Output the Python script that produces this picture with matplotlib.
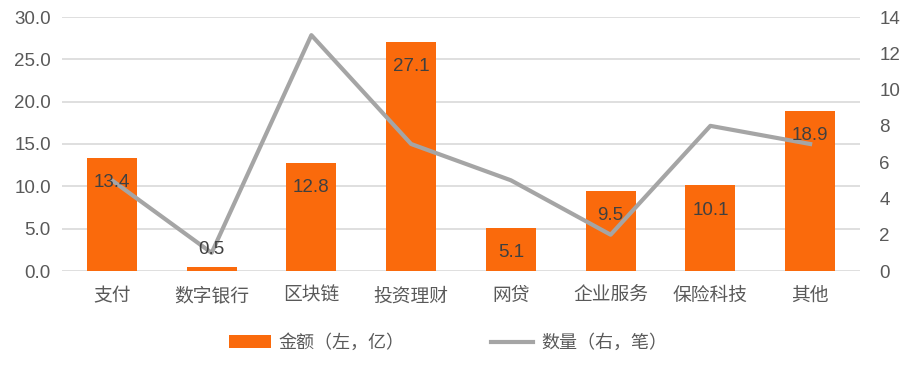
import matplotlib
matplotlib.use('Agg')
import matplotlib.pyplot as plt
from matplotlib.ticker import FormatStrFormatter
from matplotlib.lines import Line2D
from matplotlib.patches import Patch

plt.rcParams['font.family'] = ['Liberation Sans', 'Noto Sans CJK SC', 'DejaVu Sans']

# data
categories = ['支付', '数字银行', '区块链', '投资理财', '网贷', '企业服务', '保险科技', '其他']
amounts = [13.4, 0.5, 12.8, 27.1, 5.1, 9.5, 10.1, 18.9]
counts = [5, 1, 13, 7, 5, 2, 8, 7]

bar_color = '#FA6A0C'
line_color = '#A5A5A5'
text_color = '#595959'

fig = plt.figure(figsize=(9.06, 3.68), dpi=100)
ax = fig.add_axes([62 / 906, 1 - 271 / 368, (860 - 62) / 906, (271 - 17) / 368])
ax2 = ax.twinx()

x = range(len(categories))
ax.bar(x, amounts, width=0.5, color=bar_color, zorder=2)
ax.set_xlim(-0.5, len(categories) - 0.5)
ax.set_ylim(0, 30)
ax.set_yticks([0, 5, 10, 15, 20, 25, 30])
ax.yaxis.set_major_formatter(FormatStrFormatter('%.1f'))
ax.grid(axis='y', color='#D9D9D9', linewidth=1.2, zorder=0)
ax.set_axisbelow(True)

ax2.plot(x, counts, color=line_color, linewidth=3, zorder=3)
ax2.set_ylim(0, 14)
ax2.set_yticks(range(0, 15, 2))

for a in (ax, ax2):
    for s in a.spines.values():
        s.set_visible(False)
    a.tick_params(length=0, labelsize=13.5, colors=text_color)
ax.tick_params(axis='y', pad=8)
ax2.tick_params(axis='y', pad=14)
ax.tick_params(axis='x', pad=12)
ax.set_xticks(list(x))
ax.set_xticklabels(categories, fontsize=13.5)

# value labels, drawn above the line
for i, v in enumerate(amounts):
    if v < 3:
        ax2.annotate(f'{v:.1f}', xy=(i, v * 14 / 30), xytext=(0, 6), textcoords='offset points',
                     ha='center', va='bottom', fontsize=13.5, color='#404040', zorder=5)
    else:
        ax2.annotate(f'{v:.1f}', xy=(i, v * 14 / 30), xytext=(0, -18), textcoords='offset points',
                     ha='center', va='center', fontsize=13.5, color='#404040', zorder=5)

handles = [Patch(facecolor=bar_color, edgecolor='none'),
           Line2D([0], [0], color=line_color, linewidth=3)]
fig.legend(handles, ['金额（左，亿）', '数量（右，笔）'], loc='center',
           bbox_to_anchor=(448 / 906, 1 - 343 / 368), ncol=2, frameon=False,
           fontsize=13, labelcolor=text_color, columnspacing=4.8,
           handlelength=2.3, handleheight=0.7, handletextpad=0.45)

fig.savefig('out.png', dpi=100)
